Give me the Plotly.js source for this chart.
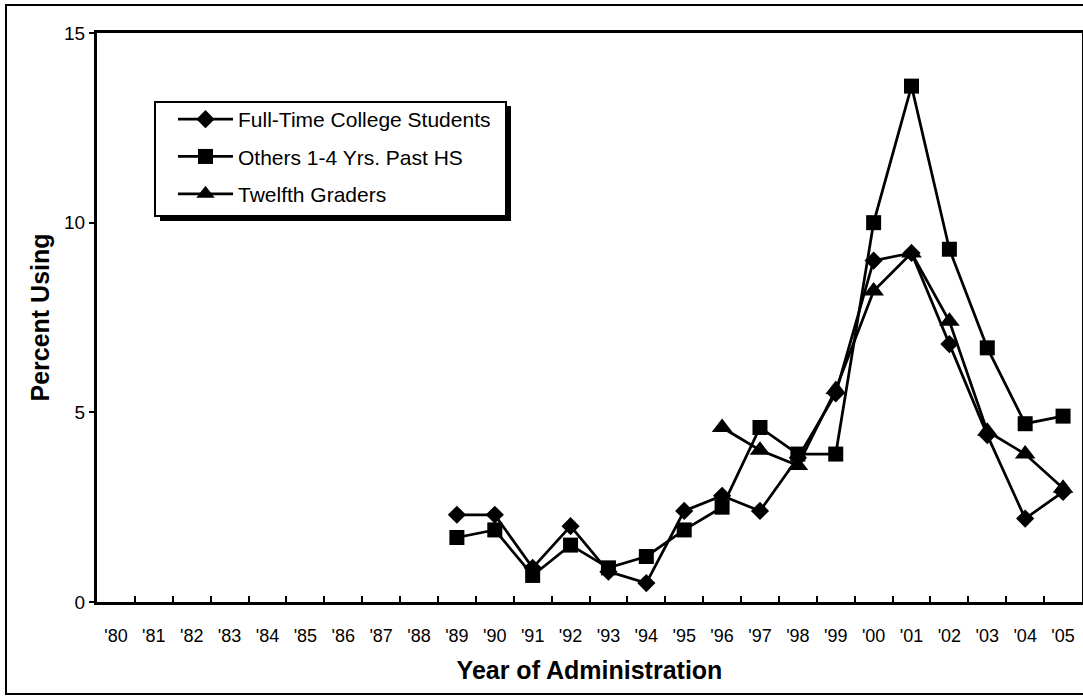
<!DOCTYPE html>
<html>
<head>
<meta charset="utf-8">
<script src="https://cdn.plot.ly/plotly-3.0.1.min.js"></script>
<style>
  html, body { margin: 0; padding: 0; background: #fff; }
  #chart { width: 1083px; height: 696px; }
</style>
</head>
<body>
<div id="chart"></div>
<script>
// ---- Data ----
const years = ["'80","'81","'82","'83","'84","'85","'86","'87","'88","'89","'90","'91","'92",
               "'93","'94","'95","'96","'97","'98","'99","'00","'01","'02","'03","'04","'05"];

const fullTimeCollege = [null,null,null,null,null,null,null,null,null,
  2.3, 2.3, 0.9, 2.0, 0.8, 0.5, 2.4, 2.8, 2.4, 3.8, 5.5, 9.0, 9.2, 6.8, 4.4, 2.2, 2.9];

const othersPastHS = [null,null,null,null,null,null,null,null,null,
  1.7, 1.9, 0.7, 1.5, 0.9, 1.2, 1.9, 2.5, 4.6, 3.9, 3.9, 10.0, 13.6, 9.3, 6.7, 4.7, 4.9];

const twelfthGraders = [null,null,null,null,null,null,null,null,null,
  null, null, null, null, null, null, null, 4.6, 4.0, 3.6, 5.6, 8.2, 9.2, 7.4, 4.5, 3.9, 3.0];

const seriesNames = ["Full-Time College Students", "Others 1-4 Yrs. Past HS", "Twelfth Graders"];
const yTicks = [0, 5, 10, 15];

// ---- Styling ----
const FONT = "Arial, 'Liberation Sans', Helvetica, sans-serif";
const lineStyle = { color: "#000", width: 2.75 };

function trace(name, y, symbol, size, group) {
  return {
    type: "scatter", mode: "lines+markers",
    x: years, y: y, name: name, legendgroup: group,
    line: lineStyle,
    marker: { symbol: symbol, size: size, color: "#000", line: { width: 0 } },
    cliponaxis: false, hoverinfo: "x+y+name"
  };
}

const data = [
  trace(seriesNames[0], fullTimeCollege, "diamond", 14, "a"),
  trace(seriesNames[1], othersPastHS, "square", 15, "b"),
  trace(seriesNames[2], twelfthGraders, "triangle-up", 18, "c")
];

const W = 1083, H = 696;
const mL = 97, mR = 1, mT = 33, mB = 94;
const pw = W - mL - mR, ph = H - mT - mB;
const px = v => (v - mL) / pw;           // pixel -> paper x
const py = v => (H - mB - v) / ph;       // pixel -> paper y

const layout = {
  width: W, height: H,
  margin: { l: mL, r: mR, t: mT, b: mB, pad: 0 },
  paper_bgcolor: "#fff", plot_bgcolor: "#fff",
  font: { family: FONT, color: "#000", size: 18 },
  showlegend: true,
  legend: {
    x: px(173), y: py(99), xanchor: "left", yanchor: "top",
    bgcolor: "rgba(0,0,0,0)", borderwidth: 0,
    font: { family: FONT, size: 21, color: "#000" },
    traceorder: "grouped", tracegroupgap: 7, itemwidth: 55,
    itemclick: false, itemdoubleclick: false
  },
  xaxis: {
    type: "category", categoryorder: "array", categoryarray: years,
    range: [-0.5, years.length - 0.5],
    showgrid: false, zeroline: false,
    showline: true, linecolor: "#000", linewidth: 3, mirror: true,
    ticks: "inside", tickson: "boundaries", ticklen: 6, tickwidth: 1.5, tickcolor: "#000",
    tickfont: { family: FONT, size: 18, color: "#000" },
    ticklabelstandoff: 15,
    title: { text: "<b>Year of Administration</b>", font: { family: FONT, size: 25, color: "#000" }, standoff: 17 },
    fixedrange: true
  },
  yaxis: {
    range: [0, 15], tickvals: yTicks, ticktext: yTicks.map(String),
    showgrid: false, zeroline: false,
    showline: true, linecolor: "#000", linewidth: 3, mirror: true,
    ticks: "outside", ticklen: 5, tickwidth: 1.5, tickcolor: "#000",
    tickfont: { family: FONT, size: 19, color: "#000" },
    title: { text: "<b>Percent Using</b>", font: { family: FONT, size: 25, color: "#000" }, standoff: 8 },
    fixedrange: true
  },
  shapes: [
    // outer chart frame
    { type: "rect", xref: "paper", yref: "paper", layer: "below",
      x0: px(6), x1: px(1095), y0: py(694), y1: py(5),
      line: { color: "#000", width: 2 }, fillcolor: "rgba(0,0,0,0)" },
    // legend drop shadow
    { type: "rect", xref: "paper", yref: "paper", layer: "above",
      x0: px(160), x1: px(511), y0: py(221), y1: py(106),
      line: { width: 0 }, fillcolor: "#000" },
    // legend box
    { type: "rect", xref: "paper", yref: "paper", layer: "above",
      x0: px(155), x1: px(506), y0: py(216), y1: py(102),
      line: { color: "#000", width: 2 }, fillcolor: "#fff" }
  ]
};

Plotly.newPlot("chart", data, layout, { displayModeBar: false, responsive: false });
</script>
</body>
</html>
